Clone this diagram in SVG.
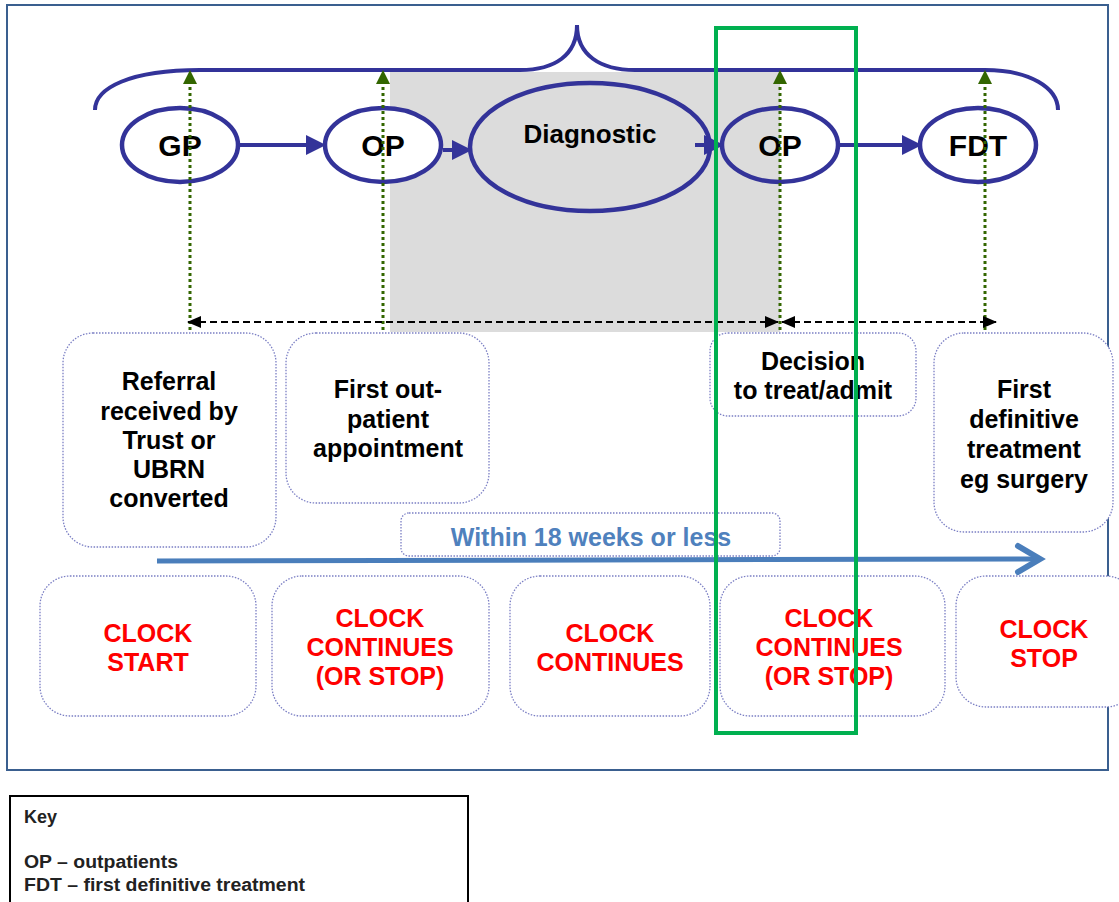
<svg xmlns="http://www.w3.org/2000/svg" width="1119" height="902" viewBox="0 0 1119 902">
<style>
.ell{fill:#fff;stroke:#333399;stroke-width:4.5}
.lbl{font-family:"Liberation Sans",Arial,sans-serif;font-weight:bold;fill:#000;text-anchor:middle}
.box{fill:#fff;stroke:#7b7fc4;stroke-width:1.3;stroke-dasharray:1.5,1.5}
.red{font-family:"Liberation Sans",Arial,sans-serif;font-weight:bold;fill:#ff0000;text-anchor:middle;font-size:25px}
.blk{font-family:"Liberation Sans",Arial,sans-serif;font-weight:bold;fill:#000;text-anchor:middle;font-size:25px}
.flow{stroke:#333399;stroke-width:4;fill:none}
.vdot{stroke:#336600;stroke-width:3;stroke-dasharray:3,3;fill:none}
.hdash{stroke:#000;stroke-width:2;stroke-dasharray:7,4;fill:none}
</style>
<defs>
<marker id="ab" markerWidth="5" markerHeight="5" refX="4" refY="2.5" orient="auto" markerUnits="strokeWidth"><path d="M0,0 L5,2.5 L0,5 z" fill="#333399"/></marker>
<marker id="ag" markerWidth="14" markerHeight="14" refX="12" refY="7" orient="auto" markerUnits="userSpaceOnUse"><path d="M0,0 L14,7 L0,14 z" fill="#336600"/></marker>
<marker id="ak" markerWidth="14" markerHeight="12" refX="13" refY="6" orient="auto-start-reverse" markerUnits="userSpaceOnUse"><path d="M0,0 L14,6 L0,12 z" fill="#000"/></marker>
</defs>
<rect x="0" y="0" width="1119" height="902" fill="#fff"/>
<rect x="7" y="5" width="1101" height="765" fill="#fff" stroke="#3a5f8f" stroke-width="2"/>
<rect id="grey" x="390" y="72" width="390" height="260" fill="#dcdcdc"/>
<path id="brace" d="M95,110 C95,88 130,70 200,70 L520,70 C555,70 577,55 577,25 C577,55 600,70 635,70 L985,70 C1030,70 1058,88 1058,110" fill="none" stroke="#333399" stroke-width="4"/>

<g id="n-gp"><ellipse class="ell" cx="180" cy="145" rx="58" ry="37"/><text class="lbl" x="180" y="156" font-size="30">GP</text></g>
<g id="n-op1"><ellipse class="ell" cx="383" cy="145" rx="58" ry="37"/><text class="lbl" x="383" y="156" font-size="30">OP</text></g>
<g id="n-diag"><ellipse class="ell" cx="590" cy="147" rx="120" ry="64" style="fill:#dcdcdc"/><text class="lbl" x="590" y="143" font-size="26">Diagnostic</text></g>
<g id="n-op2"><ellipse class="ell" cx="780" cy="145" rx="58" ry="37" style="fill:none"/><text class="lbl" x="780" y="156" font-size="30">OP</text></g>
<g id="n-fdt"><ellipse class="ell" cx="978" cy="145" rx="58" ry="37"/><text class="lbl" x="978" y="156" font-size="30">FDT</text></g>

<g id="connectors">
<line class="flow" x1="240" y1="145" x2="322" y2="145" marker-end="url(#ab)"/>
<line class="flow" x1="443" y1="150" x2="468" y2="150" marker-end="url(#ab)"/>
<line class="flow" x1="695" y1="145" x2="720" y2="145" marker-end="url(#ab)"/>
<line class="flow" x1="840" y1="145" x2="918" y2="145" marker-end="url(#ab)"/>
<line class="vdot" x1="190" y1="330" x2="190" y2="72" marker-end="url(#ag)"/>
<line class="vdot" x1="383" y1="330" x2="383" y2="72" marker-end="url(#ag)"/>
<line class="vdot" x1="780" y1="330" x2="780" y2="72" marker-end="url(#ag)"/>
<line class="vdot" x1="985" y1="330" x2="985" y2="72" marker-end="url(#ag)"/>
<line class="hdash" x1="188" y1="322" x2="778" y2="322" marker-start="url(#ak)" marker-end="url(#ak)"/>
<line class="hdash" x1="782" y1="322" x2="996" y2="322" marker-start="url(#ak)" marker-end="url(#ak)"/>
</g>

<g id="n-referral"><rect class="box" x="63" y="333" width="213" height="214" rx="30"/>
<text class="blk"><tspan x="169" y="390">Referral</tspan><tspan x="169" y="420">received by</tspan><tspan x="169" y="449">Trust or</tspan><tspan x="169" y="478">UBRN</tspan><tspan x="169" y="507">converted</tspan></text></g>
<g id="n-firstop"><rect class="box" x="286" y="333" width="203" height="170" rx="30"/>
<text class="blk"><tspan x="388" y="398">First out-</tspan><tspan x="388" y="428">patient</tspan><tspan x="388" y="457">appointment</tspan></text></g>
<g id="n-decision"><rect class="box" x="710" y="333" width="206" height="83" rx="18"/>
<text class="blk"><tspan x="813" y="370">Decision</tspan><tspan x="813" y="399">to treat/admit</tspan></text></g>
<g id="n-firstdef"><rect class="box" x="934" y="333" width="179" height="199" rx="30"/>
<text class="blk"><tspan x="1024" y="398">First</tspan><tspan x="1024" y="428">definitive</tspan><tspan x="1024" y="458">treatment</tspan><tspan x="1024" y="488">eg surgery</tspan></text></g>
<g id="n-within"><rect class="box" x="401" y="513" width="379" height="43" rx="8"/>
<text x="591" y="546" font-family="Liberation Sans,Arial,sans-serif" font-weight="bold" font-size="25" fill="#4f81bd" text-anchor="middle">Within 18 weeks or less</text></g>
<g id="timeline"><line x1="157" y1="561" x2="1036" y2="559" stroke="#4a7ebb" stroke-width="5"/><path d="M1018,546 L1040,559 L1018,572" fill="none" stroke="#4a7ebb" stroke-width="6" stroke-linecap="round"/></g>

<g id="n-c1"><rect class="box" x="40" y="576" width="216" height="140" rx="30"/><text class="red"><tspan x="148" y="642">CLOCK</tspan><tspan x="148" y="671">START</tspan></text></g>
<g id="n-c2"><rect class="box" x="272" y="576" width="217" height="140" rx="30"/><text class="red"><tspan x="380" y="627">CLOCK</tspan><tspan x="380" y="656">CONTINUES</tspan><tspan x="380" y="685">(OR STOP)</tspan></text></g>
<g id="n-c3"><rect class="box" x="510" y="576" width="200" height="140" rx="30"/><text class="red"><tspan x="610" y="642">CLOCK</tspan><tspan x="610" y="671">CONTINUES</tspan></text></g>
<g id="n-c4"><rect class="box" x="720" y="576" width="225" height="140" rx="30"/><text class="red"><tspan x="829" y="627">CLOCK</tspan><tspan x="829" y="656">CONTINUES</tspan><tspan x="829" y="685">(OR STOP)</tspan></text></g>
<g id="n-c5"><rect class="box" x="956" y="576" width="180" height="131" rx="30"/><text class="red"><tspan x="1044" y="638">CLOCK</tspan><tspan x="1044" y="667">STOP</tspan></text></g>

<rect id="highlight" x="716" y="28" width="140" height="705" fill="none" stroke="#00b050" stroke-width="4"/>

<g id="key"><rect x="10" y="796" width="458" height="120" fill="#fff" stroke="#000" stroke-width="2"/>
<text font-family="Liberation Sans,Arial,sans-serif" font-weight="bold" font-size="18" fill="#222"><tspan x="24" y="823">Key</tspan><tspan x="24" y="868" textLength="154" lengthAdjust="spacingAndGlyphs">OP – outpatients</tspan><tspan x="24" y="891" textLength="281" lengthAdjust="spacingAndGlyphs">FDT – first definitive treatment</tspan></text></g>
</svg>
